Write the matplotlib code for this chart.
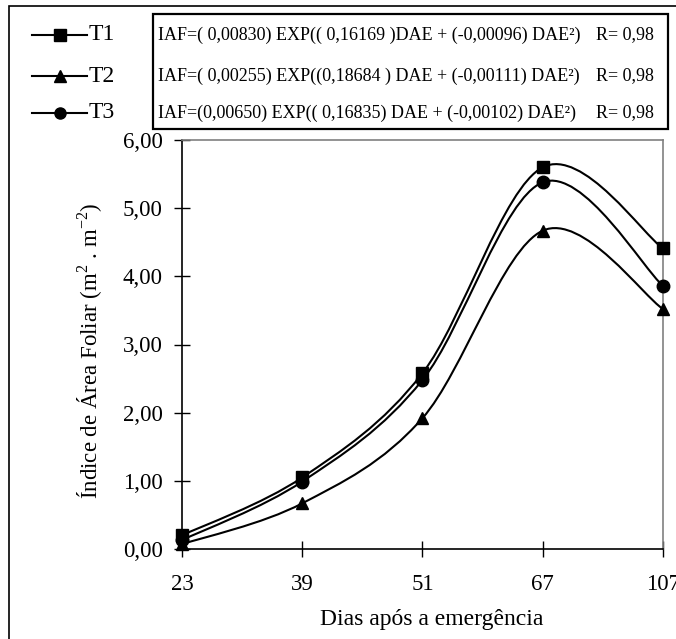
import numpy as np
import matplotlib
matplotlib.use('Agg')
import matplotlib.pyplot as plt
from matplotlib.path import Path
from matplotlib.patches import PathPatch, Rectangle
from matplotlib.lines import Line2D
from matplotlib.ticker import FuncFormatter

plt.rcParams['font.family'] = ['Liberation Serif', 'DejaVu Serif']
plt.rcParams['mathtext.fontset'] = 'custom'
plt.rcParams['mathtext.rm'] = 'Liberation Serif'

# data
days = ['23', '39', '51', '67', '107']
t1 = [0.20, 1.05, 2.58, 5.60, 4.41]
t2 = [0.07, 0.67, 1.92, 4.67, 3.52]
t3 = [0.13, 0.99, 2.48, 5.38, 3.86]
series_names = ['T1', 'T2', 'T3']
equations = [
    'IAF=( 0,00830) EXP(( 0,16169 )DAE + (-0,00096) DAE²)',
    'IAF=( 0,00255) EXP((0,18684 ) DAE + (-0,00111) DAE²)',
    'IAF=(0,00650) EXP(( 0,16835) DAE + (-0,00102) DAE²)',
]
r_values = ['R= 0,98', 'R= 0,98', 'R= 0,98']
markers = ['s', '^', 'o']

W, H = 676, 639


def fx(px):
    return px / W


def fy(py):
    return 1 - py / H


def smooth_path(x, y):
    # excel-like smoothed line: bezier segments with catmull-rom control points
    pts = np.column_stack([x, y]).astype(float)
    n = len(pts)
    verts = [pts[0]]
    codes = [Path.MOVETO]
    for i in range(n - 1):
        p0, p1 = pts[i], pts[i + 1]
        pm = pts[i - 1] if i > 0 else p0
        pp = pts[i + 2] if i + 2 < n else p1
        c1 = p0 + (p1 - pm) / 6
        c2 = p1 - (pp - p0) / 6
        verts += [c1, c2, p1]
        codes += [Path.CURVE4] * 3
    return Path(verts, codes)


fig = plt.figure(figsize=(W / 100, H / 100), dpi=100)
ax = fig.add_axes([fx(182), fy(549), fx(663) - fx(182), fy(140) - fy(549)])

x = np.arange(len(days))
for vals, mk in zip([t1, t2, t3], markers):
    ax.add_patch(PathPatch(smooth_path(x, vals), fill=False, lw=1.5,
                           ec='black', clip_on=False, zorder=2))
    ax.plot(x, vals, ls='none', marker=mk, ms=9, color='black',
            clip_on=False, zorder=3)

ax.set_xlim(0, len(days) - 1)
ax.set_ylim(0, 6)
ax.set_xticks(x, days)
ax.set_yticks(np.arange(0, 7))
ax.yaxis.set_major_formatter(FuncFormatter(lambda v, p: f'{v:.2f}'.replace('.', ',')))
ax.tick_params(axis='both', direction='inout', length=12, width=1,
               labelsize=16.5, colors='black')
ax.tick_params(axis='x', pad=12)
ax.tick_params(axis='y', pad=8)
for s in ['left', 'bottom']:
    ax.spines[s].set_color('black')
    ax.spines[s].set_linewidth(1.2)
for s in ['top', 'right']:
    ax.spines[s].set_color('#808080')
    ax.spines[s].set_linewidth(1.2)

fig.text(fx(90), fy(351), 'Índice de Área Foliar (m$^{2}$ . m$^{-2}$)',
         rotation=90, ha='center', va='center', fontsize=16.5)
fig.text(fx(432), fy(619), 'Dias após a emergência', ha='center',
         va='center', fontsize=17)

# legend drawn by hand at the left of the equation box
rows = [35, 76, 113]
for name, mk, ry in zip(series_names, markers, rows):
    fig.add_artist(Line2D([fx(32), fx(87)], [fy(ry), fy(ry)], color='black',
                          lw=1.5, transform=fig.transFigure))
    fig.add_artist(Line2D([fx(60)], [fy(ry)], marker=mk, ms=8, color='black',
                          transform=fig.transFigure))
    fig.text(fx(89), fy(ry), name, ha='left', va='center', fontsize=17)

# equation box
fig.add_artist(Rectangle((fx(153), fy(129)), fx(668) - fx(153), fy(14) - fy(129),
                         fill=False, lw=1.6, ec='black', transform=fig.transFigure))
for eq, r, ry in zip(equations, r_values, rows):
    fig.text(fx(158), fy(ry), eq, ha='left', va='center', fontsize=13)
    fig.text(fx(654), fy(ry), r, ha='right', va='center', fontsize=13)

# outer frame (only top and left fall inside the picture)
fig.add_artist(Rectangle((fx(9), -0.05), 1.1, fy(6) + 0.05, fill=False,
                         lw=1.2, ec='black', transform=fig.transFigure))

fig.savefig('out.png', dpi=100)
